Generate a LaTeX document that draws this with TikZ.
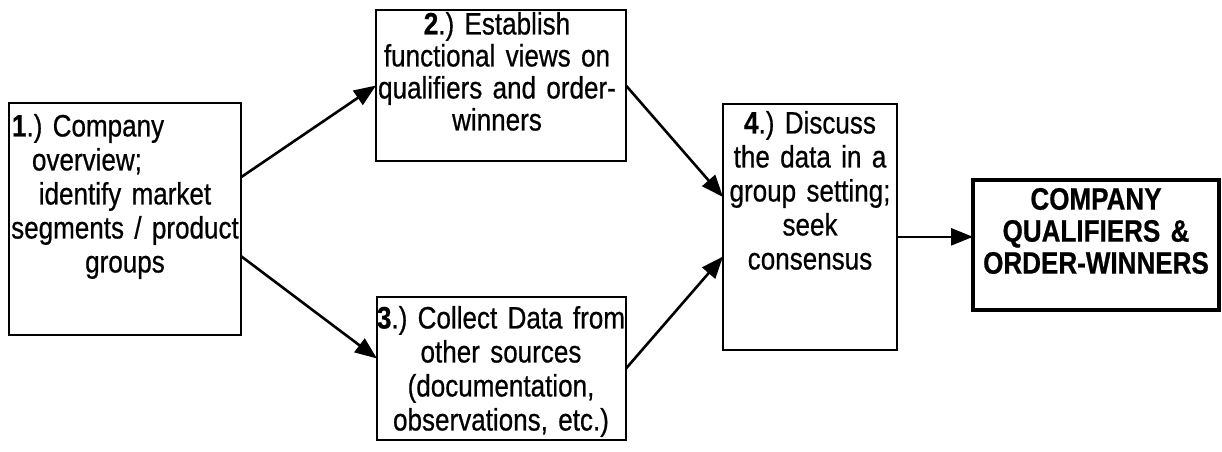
\documentclass[tikz,border=0pt]{standalone}
\usepackage{fontspec}
\setmainfont{Liberation Sans}[FakeStretch=0.84,WordSpace=0.9,UprightFeatures={FakeBold=0.6},BoldFeatures={FakeBold=0.6}]
\frenchspacing
\usetikzlibrary{arrows.meta,calc}
\begin{document}
\begin{tikzpicture}[x=1pt,y=-1pt,
  box/.style={draw=black,line width=2.4pt,fill=none,inner sep=0pt,outer sep=0pt},
  txt/.style={inner sep=0pt,outer sep=0pt,align=center,anchor=north,text width=300pt,font=\fontsize{31}{34}\selectfont\frenchspacing},
  conn/.style={line width=2.6pt,-{Triangle[length=22pt,width=17pt]}}]
\useasboundingbox (0,0) rectangle (1222,451);
% boxes
\node[box,minimum width=232pt,minimum height=232pt] (b1) at (125,219) {};
\node[box,minimum width=250pt,minimum height=151pt] (b2) at (501,85.5) {};
\node[box,minimum width=249pt,minimum height=143pt] (b3) at (501.5,368.5) {};
\node[box,minimum width=174pt,minimum height=246pt] (b4) at (810,227) {};
\node[box,line width=3.2pt,minimum width=246pt,minimum height=130pt] (b5) at (1096,245) {};
% texts
\node[txt] (t1) at (125,114) {\makebox[226pt][l]{\textbf{1}.) Company}\\ \makebox[226pt][l]{\hspace{20pt}overview;}\\ identify market\\ segments / product\\ groups};
\node[txt,font=\fontsize{31}{32}\selectfont\frenchspacing] (t2) at (497,12) {\textbf{2}.) Establish\\ functional views on\\ qualifiers and order-\\ winners};
\node[txt] (t3) at (501,306) {\textbf{3}.) Collect Data from\\ other sources\\ (documentation,\\ observations, etc.)};
\node[txt] (t4) at (810,111) {\textbf{4}.) Discuss\\ the data in a\\ group setting;\\ seek\\ consensus};
\node[txt,font=\fontsize{31}{32}\selectfont\bfseries\frenchspacing] (t5) at (1096,188) {COMPANY\\ QUALIFIERS \&\\ ORDER-WINNERS};
% connectors
\coordinate (s12) at ($(b1.north east)!0.32!(b1.south east)$);
\coordinate (s13) at ($(b1.north east)!0.66!(b1.south east)$);
\coordinate (e13) at ($(b3.north west)!0.43!(b3.south west)$);
\coordinate (e24) at ($(b4.north west)!0.378!(b4.south west)$);
\coordinate (e34) at ($(b4.north west)!0.62!(b4.south west)$);
\coordinate (s45) at ($(b4.north east)!0.54!(b4.south east)$);
\draw[conn] (s12) -- (b2.west);
\draw[conn] (s13) -- (e13);
\draw[conn] (b2.east) -- (e24);
\draw[conn] (b3.east) -- (e34);
\draw[conn] (s45) -- (s45 -| b5.west);
\end{tikzpicture}
\end{document}
